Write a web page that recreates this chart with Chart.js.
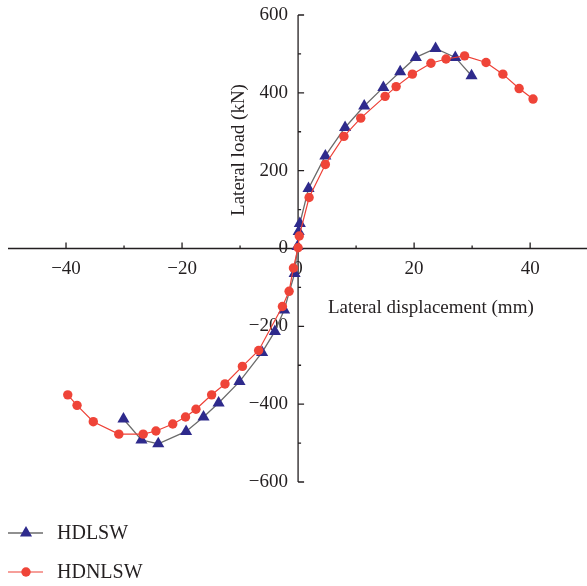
<!DOCTYPE html>
<html lang="en">
<head>
<meta charset="UTF-8">
<title>Lateral load vs displacement</title>
<script src="https://cdn.jsdelivr.net/npm/chart.js"></script>
<style>
    html, body { margin: 0; padding: 0; background: #fff; }
    .box { width: 587px; height: 586px; }
</style>
</head>
<body>
<div class="box">
    <canvas id="loadChart" width="587" height="586"></canvas>
</div>
<script>
    // HDLSW (triangles)
    const hdlswX = [-30.1, -27.0, -24.1, -19.3, -16.3, -13.7, -10.1, -6.2, -4.0, -2.4, -0.6, -0.1, 0.1, 0.3, 1.8, 4.7, 8.1, 11.4, 14.7, 17.6, 20.3, 23.7, 27.1, 29.9];
    const hdlswY = [-438, -492, -502, -470, -433, -397, -342, -267, -213, -158, -64, 5, 44, 64, 154, 238, 311, 366, 414, 454, 491, 514, 491, 444];

    // HDNLSW (circles)
    const hdnlswX = [-39.7, -38.1, -35.3, -30.9, -26.7, -24.5, -21.6, -19.4, -17.6, -14.9, -12.6, -9.6, -6.8, -2.7, -1.55, -0.8, 0.0, 0.2, 1.9, 4.7, 7.9, 10.8, 15.0, 16.9, 19.7, 22.9, 25.5, 28.7, 32.4, 35.3, 38.1, 40.5];
    const hdnlswY = [-376, -403, -445, -477, -477, -469, -451, -433, -413, -376, -348, -303, -262, -149, -110, -50, 2, 32, 131, 216, 288, 335, 391, 416, 448, 476, 487, 495, 478, 448, 411, 384];

    const xTicks = [-40, -20, 0, 20, 40];
    const yTicks = [-600, -400, -200, 0, 200, 400, 600];
    const seriesNames = ['HDLSW', 'HDNLSW'];

    const FONT = '19px "Liberation Serif", "DejaVu Serif", serif';
    const INK = '#231f20';

    function toPoints(xs, ys) {
        return xs.map((x, i) => ({ x: x, y: ys[i] }));
    }

    function minus(v) {
        return String(v).replace('-', '\u2212');
    }

    // axes through the origin, ticks and titles
    const axesPlugin = {
        id: 'axesPlugin',
        beforeDatasetsDraw(chart) {
            const ctx = chart.ctx;
            const xs = chart.scales.x;
            const ys = chart.scales.y;
            const x0 = xs.getPixelForValue(0);
            const y0 = ys.getPixelForValue(0);
            ctx.save();
            ctx.strokeStyle = INK;
            ctx.lineWidth = 1.3;
            ctx.beginPath();
            ctx.moveTo(chart.chartArea.left, y0);
            ctx.lineTo(chart.chartArea.right, y0);
            ctx.moveTo(x0, ys.getPixelForValue(600));
            ctx.lineTo(x0, ys.getPixelForValue(-600));
            // y ticks point right
            for (let v = -600; v <= 600; v += 100) {
                const y = ys.getPixelForValue(v);
                const len = v % 200 === 0 ? 6 : 3;
                ctx.moveTo(x0, y);
                ctx.lineTo(x0 + len, y);
            }
            // x ticks point up
            for (let v = -40; v <= 40; v += 10) {
                if (v === 0) continue;
                const x = xs.getPixelForValue(v);
                const len = v % 20 === 0 ? 6 : 3;
                ctx.moveTo(x, y0);
                ctx.lineTo(x, y0 - len);
            }
            ctx.stroke();

            ctx.fillStyle = INK;
            ctx.font = FONT;
            ctx.textAlign = 'right';
            ctx.textBaseline = 'middle';
            yTicks.forEach(v => {
                ctx.fillText(minus(v), x0 - 10, ys.getPixelForValue(v));
            });
            ctx.textAlign = 'center';
            xTicks.forEach(v => {
                ctx.fillText(minus(v), xs.getPixelForValue(v), y0 + 21);
            });

            ctx.textAlign = 'left';
            ctx.fillText('Lateral displacement (mm)', 328, 308);

            ctx.translate(239, 150);
            ctx.rotate(-Math.PI / 2);
            ctx.textAlign = 'center';
            ctx.fillText('Lateral load (kN)', 0, 0);
            ctx.restore();
        },
        afterDraw(chart) {
            // legend, bottom left, one row per series
            const ctx = chart.ctx;
            const rows = [533, 572];
            ctx.save();
            chart.data.datasets.forEach((ds, i) => {
                const y = rows[i];
                ctx.strokeStyle = ds.borderColor;
                ctx.lineWidth = ds.borderWidth;
                ctx.beginPath();
                ctx.moveTo(8, y);
                ctx.lineTo(43, y);
                ctx.stroke();
                ctx.fillStyle = ds.pointBackgroundColor;
                ctx.beginPath();
                if (ds.pointStyle === 'triangle') {
                    const r = ds.pointRadius;
                    ctx.moveTo(26, y - r);
                    ctx.lineTo(26 + r * Math.sin(Math.PI / 3), y + r / 2);
                    ctx.lineTo(26 - r * Math.sin(Math.PI / 3), y + r / 2);
                    ctx.closePath();
                } else {
                    ctx.arc(26, y, ds.pointRadius, 0, Math.PI * 2);
                }
                ctx.fill();
                ctx.fillStyle = INK;
                ctx.font = '20px "Liberation Serif", "DejaVu Serif", serif';
                ctx.textAlign = 'left';
                ctx.textBaseline = 'middle';
                ctx.fillText(ds.label, 57, y + 1);
            });
            ctx.restore();
        }
    };

    new Chart(document.getElementById('loadChart'), {
        type: 'scatter',
        data: {
            datasets: [{
                label: seriesNames[0],
                data: toPoints(hdlswX, hdlswY),
                showLine: true,
                borderColor: '#6b6b6b',
                borderWidth: 1.3,
                pointStyle: 'triangle',
                pointRadius: 7,
                pointBackgroundColor: '#2e2a8c',
                pointBorderWidth: 0,
                order: 2
            }, {
                label: seriesNames[1],
                data: toPoints(hdnlswX, hdnlswY),
                showLine: true,
                borderColor: '#ee4036',
                borderWidth: 1.2,
                pointStyle: 'circle',
                pointRadius: 4.7,
                pointBackgroundColor: '#ef4438',
                pointBorderWidth: 0,
                order: 1
            }]
        },
        options: {
            responsive: false,
            animation: false,
            layout: {
                autoPadding: false,
                padding: { left: 8, right: 0, top: 15, bottom: 104 }
            },
            scales: {
                x: { type: 'linear', display: false, min: -50, max: 49.8 },
                y: { type: 'linear', display: false, min: -600, max: 600 }
            },
            plugins: {
                legend: { display: false },
                tooltip: { enabled: false }
            }
        },
        plugins: [axesPlugin]
    });
</script>
</body>
</html>
